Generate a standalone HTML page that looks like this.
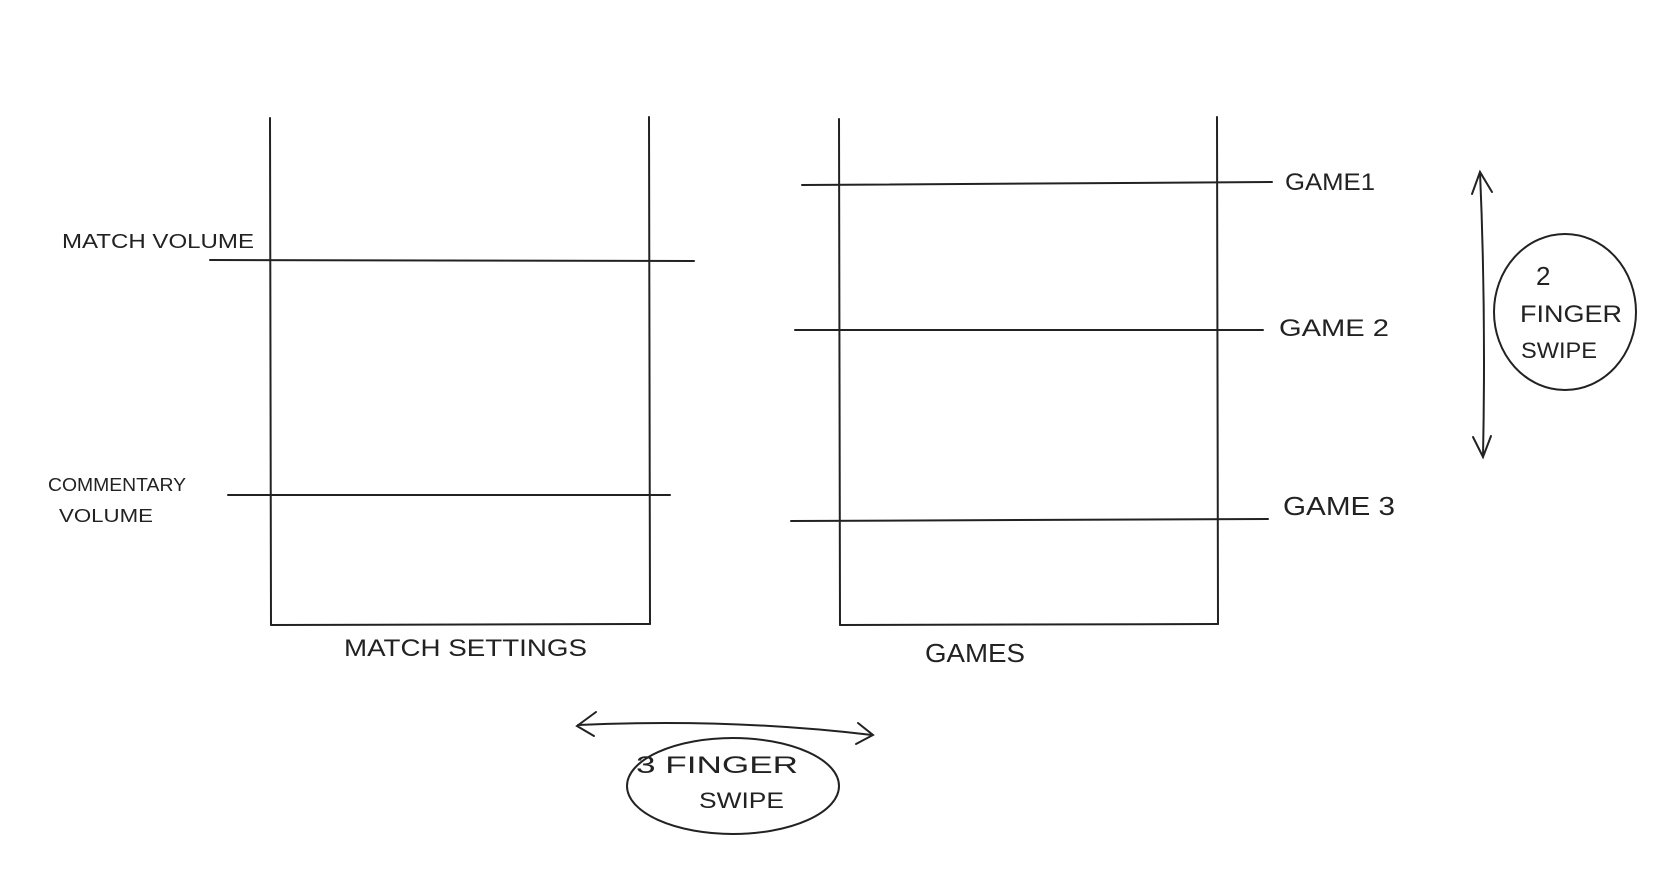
<!DOCTYPE html>
<html><head><meta charset="utf-8"><style>
html,body{margin:0;padding:0;background:#fff;}
svg{display:block;}
text{font-family:"Liberation Sans",sans-serif;fill:#222;}
</style></head><body>
<svg width="1668" height="880" viewBox="0 0 1668 880">
<g stroke="#222" stroke-width="2" fill="none" stroke-linecap="round">
  <g>
    <line x1="270" y1="118" x2="271" y2="625"/>
    <line x1="649" y1="117" x2="650" y2="624"/>
    <line x1="271" y1="625" x2="650" y2="624"/>
  </g>
  <line x1="210" y1="260" x2="694" y2="261"/>
  <line x1="228" y1="495" x2="670" y2="495"/>
  <g>
    <line x1="839" y1="119" x2="840" y2="625"/>
    <line x1="1217" y1="117" x2="1218" y2="624"/>
    <line x1="840" y1="625" x2="1218" y2="624"/>
  </g>
  <line x1="802" y1="185" x2="1272" y2="182"/>
  <line x1="795" y1="330" x2="1263" y2="330"/>
  <line x1="791" y1="521" x2="1268" y2="519"/>
  <g>
    <path d="M1480 172 Q1486 310 1483 457"/>
    <path d="M1472 194 L1480 172 L1492 192"/>
    <path d="M1473 437 L1483 457 L1491 436"/>
  </g>
  <ellipse cx="1565" cy="312" rx="71" ry="78"/>
  <g>
    <path d="M578 725 Q730 718 872 735"/>
    <path d="M596 712 L577 726 L594 736"/>
    <path d="M858 723 L873 735 L856 744"/>
  </g>
  <ellipse cx="733" cy="786" rx="106" ry="48"/>
</g>
<text x="62" y="248" font-size="20" textLength="192" lengthAdjust="spacingAndGlyphs">MATCH VOLUME</text>
<text x="48" y="491" font-size="18" textLength="138" lengthAdjust="spacingAndGlyphs">COMMENTARY</text>
<text x="59" y="522" font-size="18" textLength="94" lengthAdjust="spacingAndGlyphs">VOLUME</text>
<text x="1285" y="190" font-size="24" textLength="90" lengthAdjust="spacingAndGlyphs">GAME1</text>
<text x="1279" y="336" font-size="24" textLength="110" lengthAdjust="spacingAndGlyphs">GAME 2</text>
<text x="1283" y="515" font-size="26" textLength="112" lengthAdjust="spacingAndGlyphs">GAME 3</text>
<text x="344" y="656" font-size="24" textLength="243" lengthAdjust="spacingAndGlyphs">MATCH SETTINGS</text>
<text x="925" y="662" font-size="26" textLength="100" lengthAdjust="spacingAndGlyphs">GAMES</text>
<text x="1536" y="285" font-size="26">2</text>
<text x="1520" y="322" font-size="24" textLength="102" lengthAdjust="spacingAndGlyphs">FINGER</text>
<text x="1521" y="358" font-size="22" textLength="76" lengthAdjust="spacingAndGlyphs">SWIPE</text>
<text x="636" y="773" font-size="24" textLength="162" lengthAdjust="spacingAndGlyphs">3 FINGER</text>
<text x="699" y="808" font-size="22" textLength="85" lengthAdjust="spacingAndGlyphs">SWIPE</text>
</svg>
</body></html>
